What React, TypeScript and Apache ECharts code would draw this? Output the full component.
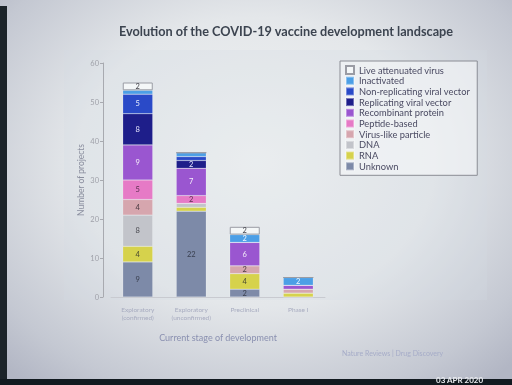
import React, { useEffect, useRef } from "react";
import * as echarts from "echarts";

const categories = ["Exploratory\n(confirmed)", "Exploratory\n(unconfirmed)", "Preclinical", "Phase I"];
const yTicks = { min: 0, max: 60, interval: 10 };

const unknown = [9, 22, 2, 0];
const rna = [4, 1, 4, 1];
const dna = [8, 1, 0, 0];
const vlp = [4, 0, 2, 1];
const peptide = [5, 2, 0, 0];
const recombinant = [9, 7, 6, 1];
const replicating = [8, 2, 0, 0];
const nonReplicating = [5, 1, 0, 0];
const inactivated = [1, 1, 2, 2];
const liveAttenuated = [2, 0, 2, 0];

const seriesDefs = [
  { name: "Unknown", data: unknown, color: "#7d8aa8", label: "#3a4050" },
  { name: "RNA", data: rna, color: "#d6d24c", label: "#4a4a30" },
  { name: "DNA", data: dna, color: "#c2c4ca", label: "#4a4a50" },
  { name: "Virus-like particle", data: vlp, color: "#d6a6ae", label: "#4a3a40" },
  { name: "Peptide-based", data: peptide, color: "#e67ac6", label: "#5a3050" },
  { name: "Recombinant protein", data: recombinant, color: "#9a56d0", label: "#f4eefa" },
  { name: "Replicating viral vector", data: replicating, color: "#1e1e8a", label: "#e8e8ff" },
  { name: "Non-replicating viral vector", data: nonReplicating, color: "#2a4ac8", label: "#e8f0ff" },
  { name: "Inactivated", data: inactivated, color: "#4c9fe6", label: "#f0f8ff" },
  { name: "Live attenuated virus", data: liveAttenuated, color: "#f4f7f8", label: "#404048" },
];

const legendOrder = seriesDefs.map((s) => s.name).reverse();

export default function App() {
  const ref = useRef<HTMLDivElement>(null);
  useEffect(() => {
    if (!ref.current) return;
    const chart = echarts.init(ref.current, undefined, { renderer: "svg" });
    const font = "Lato, 'Open Sans', sans-serif";
    chart.setOption({
      animation: false,
      backgroundColor: "transparent",
      textStyle: { fontFamily: font },
      title: {
        text: "Evolution of the COVID-19 vaccine development landscape",
        left: 281,
        textAlign: "center",
        top: 19,
        textStyle: { fontSize: 12.7, fontWeight: "bold", color: "#3c4450", fontFamily: font },
      },
      legend: {
        data: legendOrder,
        orient: "vertical",
        left: 340,
        top: 61,
        itemWidth: 8,
        itemHeight: 8,
        itemGap: 0.7,
        icon: "rect",
        padding: [4, 7, 4, 5],
        borderColor: "#8a8c94",
        borderWidth: 1,
        backgroundColor: "rgba(245,246,248,0.6)",
        textStyle: { fontSize: 9.3, color: "#4a4a62", fontFamily: font },
      },
      grid: { left: 111, width: 214, top: 63, height: 234 },
      xAxis: {
        type: "category",
        data: categories,
        axisLine: { lineStyle: { color: "#c8cad0" } },
        axisTick: { show: false },
        axisLabel: { fontSize: 6.5, color: "#a8acc0", lineHeight: 8.5, margin: 8, interval: 0 },
        name: "Current stage of development",
        nameLocation: "middle",
        nameGap: 36,
        nameTextStyle: { fontSize: 9, color: "#8a90b0" },
      },
      yAxis: {
        type: "value",
        min: yTicks.min,
        max: yTicks.max,
        interval: yTicks.interval,
        offset: 8,
        axisLine: { show: true, lineStyle: { color: "#a8aab0" } },
        axisTick: { show: true, length: 3, lineStyle: { color: "#a8aab0" } },
        axisLabel: { fontSize: 7.5, color: "#a0a2aa", margin: 4 },
        splitLine: { show: false },
        name: "Number of projects",
        nameLocation: "middle",
        nameGap: 18,
        nameRotate: 90,
        nameTextStyle: { fontSize: 8.5, color: "#8a8e9e" },
      },
      series: seriesDefs.map((s) => ({
        name: s.name,
        type: "bar",
        stack: "total",
        barWidth: 30,
        data: s.data,
        itemStyle: {
          color: s.color,
          borderColor: s.name === "Live attenuated virus" ? "#9a9ca4" : "rgba(255,255,255,0.35)",
          borderWidth: s.name === "Live attenuated virus" ? 1 : 0.5,
        },
        label: {
          show: true,
          position: "inside",
          fontSize: 7.5,
          lineHeight: 7,
          color: s.label,
          formatter: (p: any) => (p.value >= 2 ? String(p.value) : ""),
        },
      })),
      graphic: [
        {
          type: "text",
          left: 342,
          top: 349,
          style: { text: "Nature Reviews | Drug Discovery", fontSize: 7, fill: "#a6acc8", fontFamily: font },
        },
      ],
    });
    return () => chart.dispose();
  }, []);

  return (
    <div
      style={{
        position: "fixed",
        left: 0,
        top: 0,
        width: 512,
        height: 385,
        overflow: "hidden",
        background:
          "radial-gradient(ellipse 70% 75% at 50% 42%, #f1f3f3 0%, #e4e7ea 50%, #c4c8d2 85%, #b2b6c4 100%)",
      }}
    >
      <div
        style={{
          position: "absolute",
          left: 64,
          top: 50,
          width: 423,
          height: 250,
          background: "rgba(210,218,228,0.25)",
        }}
      />
      <div ref={ref} style={{ position: "absolute", left: 0, top: 0, width: 512, height: 385 }} />
      <div style={{ position: "absolute", left: 0, top: 6, width: 7, height: 379, background: "#1c242a" }} />
      <div style={{ position: "absolute", left: 0, top: 379, width: 512, height: 6, background: "#121a20" }} />
      <div
        style={{
          position: "absolute",
          left: 436,
          top: 376,
          fontFamily: "Lato, sans-serif",
          fontSize: 8,
          lineHeight: "9px",
          fontWeight: "bold",
          color: "#e8eaee",
          whiteSpace: "nowrap",
        }}
      >
        03 APR 2020
      </div>
    </div>
  );
}
